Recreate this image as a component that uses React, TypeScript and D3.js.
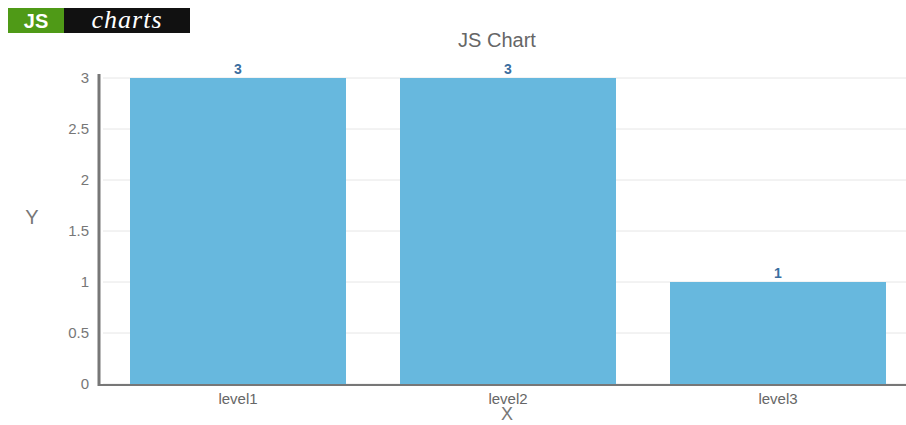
import React from "react";
import * as d3 from "d3";

const categories = ["level1", "level2", "level3"];
const values = [3, 3, 1];
const yTicks = [0, 0.5, 1, 1.5, 2, 2.5, 3];

const W = 906;
const H = 425;
const left = 103;
const right = 913;
const top = 78;
const bottom = 384;

export default function App() {
  const x = d3.scaleBand<string>().domain(categories).range([left, right]).paddingInner(0.2).paddingOuter(0.1);
  const y = d3.scaleLinear().domain([0, 3]).range([bottom, top]);
  const font = "Arial, 'Liberation Sans', Helvetica, sans-serif";
  return (
    <svg width={W} height={H} style={{ position: "absolute", left: 0, top: 0 }} fontFamily={font}>
      <rect x={0} y={0} width={W} height={H} fill="#fff" />
      {/* logo */}
      <rect x={8} y={8} width={56} height={25} fill="#4f9a17" />
      <rect x={64} y={8} width={126} height={25} fill="#111" />
      <text x={36} y={28} textAnchor="middle" fill="#fff" fontWeight="bold" fontSize={20}>JS</text>
      <text x={127} y={28} textAnchor="middle" fill="#fff" fontStyle="italic" fontSize={26} letterSpacing={1} fontFamily="'Liberation Serif', 'DejaVu Serif', serif">charts</text>
      {/* title */}
      <text x={497} y={47} textAnchor="middle" fill="#666" fontSize={20}>JS Chart</text>
      {/* grid */}
      {yTicks.map((t) => (
        <line key={"g" + t} x1={left} x2={W} y1={y(t)} y2={y(t)} stroke="#e6e6e6" strokeWidth={1} />
      ))}
      {/* bars */}
      {categories.map((c, i) => (
        <rect key={c} x={x(c)} y={y(values[i])} width={x.bandwidth()} height={bottom - y(values[i])} fill="#67b8de" />
      ))}
      {/* value labels */}
      {categories.map((c, i) => (
        <text key={"v" + c} x={(x(c) as number) + x.bandwidth() / 2} y={y(values[i]) - 4} textAnchor="middle" fill="#3a6ea0" fontWeight="bold" fontSize={14}>{values[i]}</text>
      ))}
      {/* axes */}
      <line x1={99} x2={99} y1={74} y2={386} stroke="#777" strokeWidth={3} />
      <line x1={98} x2={W} y1={385} y2={385} stroke="#777" strokeWidth={2} />
      {yTicks.map((t) => (
        <text key={"t" + t} x={89} y={y(t) + 5} textAnchor="end" fill="#777" fontSize={15}>{t}</text>
      ))}
      {categories.map((c) => (
        <text key={"x" + c} x={(x(c) as number) + x.bandwidth() / 2} y={404} textAnchor="middle" fill="#666" fontSize={15}>{c}</text>
      ))}
      <text x={32} y={224} textAnchor="middle" fill="#777" fontSize={20}>Y</text>
      <text x={507} y={420} textAnchor="middle" fill="#777" fontSize={18}>X</text>
    </svg>
  );
}
